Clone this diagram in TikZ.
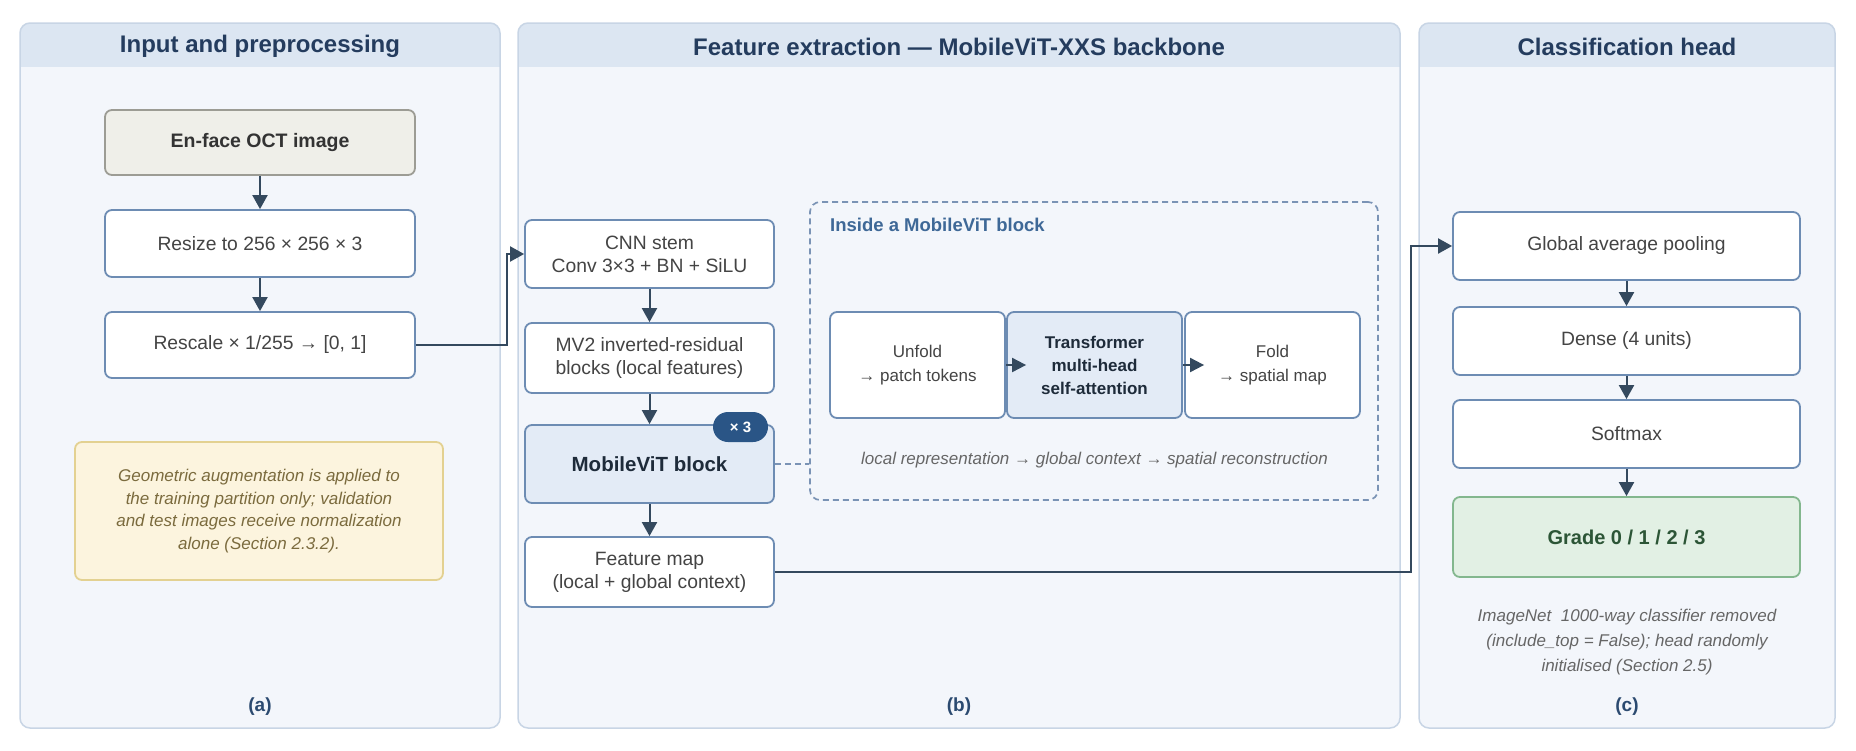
\documentclass[tikz,border=0pt]{standalone}
\usepackage{fontspec}
\setmainfont{Liberation Sans}
\usetikzlibrary{arrows.meta,calc}
\definecolor{panelbg}{HTML}{F3F6FB}
\definecolor{panelborder}{HTML}{C8D5E5}
\definecolor{hdr}{HTML}{DCE6F2}
\definecolor{titlec}{HTML}{243C5E}
\definecolor{boxborder}{HTML}{6D8CB3}
\definecolor{boxtext}{HTML}{444444}
\definecolor{arrowc}{HTML}{34495E}
\definecolor{enfill}{HTML}{EFEFE9}
\definecolor{enborder}{HTML}{9C9C94}
\definecolor{entext}{HTML}{333333}
\definecolor{notefill}{HTML}{FCF4DE}
\definecolor{noteborder}{HTML}{E3D191}
\definecolor{notetext}{HTML}{7B6B3E}
\definecolor{mvitfill}{HTML}{E3EBF6}
\definecolor{mvittext}{HTML}{1E2B3A}
\definecolor{badgec}{HTML}{2A5586}
\definecolor{dashc}{HTML}{7A93B5}
\definecolor{insidec}{HTML}{3E6897}
\definecolor{gradefill}{HTML}{E2F0E4}
\definecolor{gradeborder}{HTML}{83B78E}
\definecolor{gradetext}{HTML}{2C5536}
\definecolor{captext}{HTML}{666666}
\definecolor{labelc}{HTML}{2B4A70}
\newcommand{\drawpanel}[6]{%
  \begin{scope}
    \clip[rounded corners=10pt] (#1,23) rectangle (#2,728);
    \fill[panelbg] (#1,23) rectangle (#2,728);
    \fill[hdr] (#1,23) rectangle (#2,67);
  \end{scope}
  \draw[panelborder, line width=1.5pt, rounded corners=10pt] (#1,23) rectangle (#2,728);
  \node[titlefont] (#5) at ({(#1+#2)/2},46.5) {#3};
  \node[labelfont] (#6) at ({(#1+#2)/2},707) {#4};
}
\begin{document}
\begin{tikzpicture}[x=1pt,y=-1pt,
  titlefont/.style={font=\fontsize{24}{28}\selectfont\bfseries, text=titlec, inner sep=0pt},
  labelfont/.style={font=\fontsize{19}{22}\selectfont\bfseries, text=labelc, inner sep=0pt},
  box/.style={draw=boxborder, line width=1.8pt, fill=white, rounded corners=7pt, align=center,
    text=boxtext, font=\fontsize{19.3}{23}\selectfont, inner sep=0pt},
  inbox/.style={box, font=\fontsize{17}{23.5}\selectfont, minimum height=106, minimum width=175},
  arr/.style={draw=arrowc, line width=2pt, -{Triangle[length=14pt,width=15pt]}},
  dashline/.style={draw=dashc, line width=1.7pt, dash pattern=on 6pt off 4pt}
]
\useasboundingbox (0,0) rectangle (1856,750);
\fill[white] (0,0) rectangle (1856,750);

\drawpanel{20}{500}{Input and preprocessing}{(a)}{ta}{la}
\drawpanel{518}{1400}{Feature extraction — MobileViT-XXS backbone}{(b)}{tb}{lb}
\drawpanel{1419}{1835}{Classification head}{(c)}{tc}{lc}

% Panel a
\node[box, fill=enfill, draw=enborder, text=entext, font=\fontsize{19.5}{23}\selectfont\bfseries,
  minimum width=310, minimum height=65] (enface) at (260,142.5) {En-face OCT image};
\node[box, minimum width=310, minimum height=67] (resize) at (260,243.5) {Resize to 256 × 256 × 3};
\node[box, minimum width=310, minimum height=66] (rescale) at (260,345) {Rescale × 1/255 → [0, 1]};
\node[box, fill=notefill, draw=noteborder, text=notetext, font=\fontsize{17}{22.7}\selectfont\itshape,
  minimum width=368, minimum height=138] (note) at (259,511)
  {Geometric augmentation is applied to\\the training partition only; validation\\and test images receive normalization\\alone (Section 2.3.2).};

\draw[arr] (enface) -- (resize);
\draw[arr] (resize) -- (rescale);

% Panel b
\node[box, minimum width=249, minimum height=68] (cnn) at (649.5,254) {CNN stem\\Conv 3×3 + BN + SiLU};
\node[box, minimum width=249, minimum height=70] (mv2) at (649.5,358) {MV2 inverted-residual\\blocks (local features)};
\node[box, fill=mvitfill, text=mvittext, font=\fontsize{20.5}{24}\selectfont\bfseries,
  minimum width=249, minimum height=78] (mvit) at (649.5,464) {MobileViT block};
\node[fill=badgec, text=white, rounded corners=15pt, minimum width=55, minimum height=30, inner sep=0pt,
  font=\fontsize{15}{18}\selectfont\bfseries] (badge) at (740.5,427) {× 3};
\node[box, minimum width=249, minimum height=70] (fmap) at (649.5,572) {Feature map\\(local + global context)};

\node[dashline, rounded corners=10pt, minimum width=568, minimum height=298, inner sep=0pt] (inside) at (1094,351) {};
\node[anchor=west, text=insidec, font=\fontsize{18.5}{22}\selectfont\bfseries, inner sep=0pt] (insidet) at (830,225) {Inside a MobileViT block};
\node[inbox] (unfold) at (917.5,365) {Unfold\\→ patch tokens};
\node[inbox, fill=mvitfill, text=mvittext, font=\fontsize{17}{23}\selectfont\bfseries] (trans) at (1094.5,365) {Transformer\\multi-head\\self-attention};
\node[inbox] (fold) at (1272.5,365) {Fold\\→ spatial map};
\node[text=captext, font=\fontsize{17}{20}\selectfont\itshape, inner sep=0pt] (cap) at (1094.5,460)
  {local representation → global context → spatial reconstruction};

\draw[arr, -{Triangle[length=14pt,width=14pt]}] (unfold.east) -- ([xshift=20pt]trans.west);
\draw[arr, -{Triangle[length=14pt,width=14pt]}] (trans.east) -- ([xshift=20pt]fold.west);

\draw[arr] (cnn) -- (mv2);
\draw[arr] (mv2) -- (mvit);
\draw[arr] (mvit) -- (fmap);
\draw[dashline] (mvit.east) -- (mvit.east -| inside.west);

\draw[arr] (rescale.east) -| ([xshift=-17pt]cnn.west) -- (cnn.west);

% Panel c
\node[box, minimum width=347, minimum height=68] (gap) at (1626.5,246) {Global average pooling};
\node[box, minimum width=347, minimum height=68] (dense) at (1626.5,341) {Dense (4 units)};
\node[box, minimum width=347, minimum height=68] (softmax) at (1626.5,434) {Softmax};
\node[box, fill=gradefill, draw=gradeborder, text=gradetext, font=\fontsize{20}{24}\selectfont\bfseries,
  minimum width=347, minimum height=80] (grade) at (1626.5,537) {Grade 0 / 1 / 2 / 3};
\node[align=center, text=captext, font=\fontsize{17}{25}\selectfont\itshape, inner sep=0pt] (cnote) at (1627,642)
  {ImageNet\ \ 1000-way classifier removed\\(include\_top = False); head randomly\\initialised (Section 2.5)};

\draw[arr] (gap) -- (dense);
\draw[arr] (dense) -- (softmax);
\draw[arr] (softmax) -- (grade);

\draw[arr] (fmap.east) -| ([xshift=-41pt]gap.west) -- (gap.west);
\end{tikzpicture}
\end{document}
